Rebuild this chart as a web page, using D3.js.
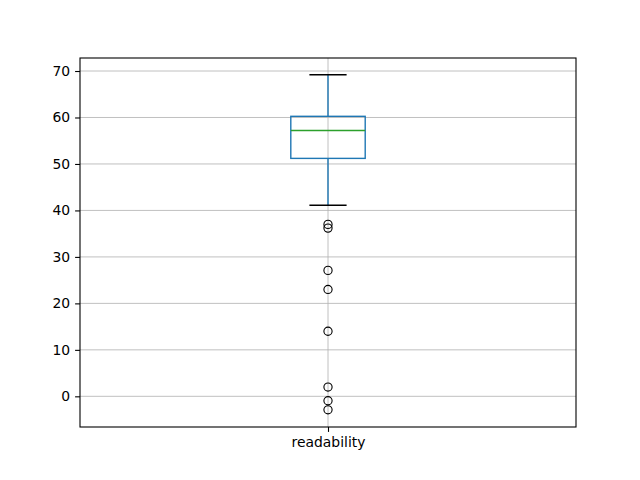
<!DOCTYPE html>
<html><head><meta charset="utf-8">
<script src="https://cdn.jsdelivr.net/npm/d3@7"></script>
<style>body{margin:0;background:#fff}svg{display:block}</style>
</head><body>
<script>
const categories = ["readability"];
const q1 = [51.2];
const median = [57.2];
const q3 = [60.25];
const whiskerLow = [41.1];
const whiskerHigh = [69.2];
const outliers = [[37, 36.2, 27.1, 23, 14, 2, -0.95, -2.9]];
const yTicks = [0, 10, 20, 30, 40, 50, 60, 70];

const W = 640, H = 480;
const m = {left: 80, right: 64, top: 58, bottom: 53};
const svg = d3.select("body").append("svg").attr("width", W).attr("height", H);
const iw = W - m.left - m.right, ih = H - m.top - m.bottom;
const g = svg.append("g").attr("transform", `translate(${m.left},${m.top})`);

const y = d3.scaleLinear().domain([-6.6, 72.8]).range([ih, 0]);
const x = d3.scaleLinear().domain([0.5, 1.5]).range([0, iw]);
const boxW = 0.15;

// grid
g.append("g").selectAll("line.h").data(yTicks).join("line")
  .attr("x1", 0).attr("x2", iw).attr("y1", d => y(d)).attr("y2", d => y(d))
  .attr("stroke", "#b0b0b0").attr("stroke-width", 0.8);
g.append("g").selectAll("line.v").data(categories).join("line")
  .attr("x1", (d,i) => x(i+1)).attr("x2", (d,i) => x(i+1)).attr("y1", 0).attr("y2", ih)
  .attr("stroke", "#b0b0b0").attr("stroke-width", 0.8);

categories.forEach((c, i) => {
  const cx = x(i + 1);
  const bx0 = x(i + 1 - boxW/2), bx1 = x(i + 1 + boxW/2);
  const cx0 = x(i + 1 - boxW/4), cx1 = x(i + 1 + boxW/4);
  // whiskers
  g.append("line").attr("x1", cx).attr("x2", cx).attr("y1", y(q3[i])).attr("y2", y(whiskerHigh[i]))
    .attr("stroke", "#1f77b4").attr("stroke-width", 1.4);
  g.append("line").attr("x1", cx).attr("x2", cx).attr("y1", y(q1[i])).attr("y2", y(whiskerLow[i]))
    .attr("stroke", "#1f77b4").attr("stroke-width", 1.4);
  // caps
  [whiskerHigh[i], whiskerLow[i]].forEach(v => {
    g.append("line").attr("x1", cx0).attr("x2", cx1).attr("y1", y(v)).attr("y2", y(v))
      .attr("stroke", "#000").attr("stroke-width", 1.4);
  });
  // box
  g.append("rect").attr("x", bx0).attr("y", y(q3[i])).attr("width", bx1 - bx0)
    .attr("height", y(q1[i]) - y(q3[i])).attr("fill", "none")
    .attr("stroke", "#1f77b4").attr("stroke-width", 1.4);
  // median
  g.append("line").attr("x1", bx0).attr("x2", bx1).attr("y1", y(median[i])).attr("y2", y(median[i]))
    .attr("stroke", "#2ca02c").attr("stroke-width", 1.4);
  // fliers
  g.append("g").selectAll("circle").data(outliers[i]).join("circle")
    .attr("cx", cx).attr("cy", d => y(d)).attr("r", 4.1)
    .attr("fill", "none").attr("stroke", "#000").attr("stroke-width", 1.1);
});

// axes
const yAxis = d3.axisLeft(y).tickValues(yTicks).tickSize(4.9).tickPadding(4.9);
const ya = g.append("g").call(yAxis);
const xAxis = d3.axisBottom(x).tickValues(categories.map((d,i)=>i+1)).tickFormat((d)=>categories[d-1]).tickSize(4.9).tickPadding(4.9);
const xa = g.append("g").attr("transform", `translate(0,${ih})`).call(xAxis);
[ya, xa].forEach(a => {
  a.select(".domain").remove();
  a.selectAll("line").attr("stroke", "#000").attr("stroke-width", 1.1);
  a.selectAll("text").attr("font-family", "DejaVu Sans").attr("font-size", "13.9px").attr("fill", "#000");
});
g.append("rect").attr("x", 0).attr("y", 0).attr("width", iw).attr("height", ih)
  .attr("fill", "none").attr("stroke", "#000").attr("stroke-width", 1.1);
</script>
</body></html>
